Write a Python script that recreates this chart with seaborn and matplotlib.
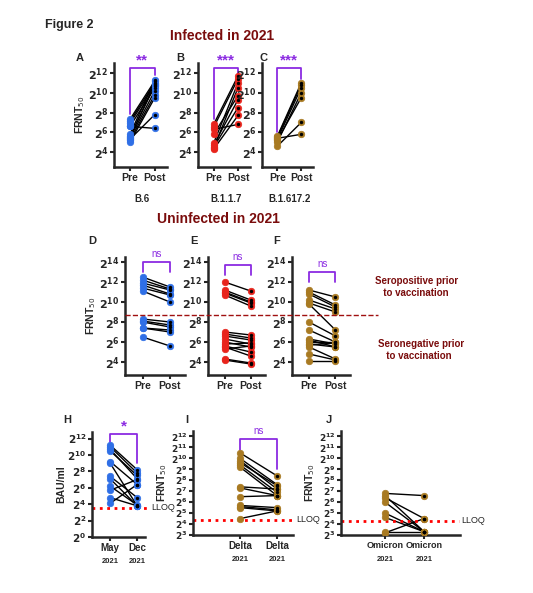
import matplotlib
matplotlib.use("Agg")
import matplotlib.pyplot as plt
import seaborn as sns
import pandas as pd
import numpy as np

sns.set_style("ticks")
plt.rcParams['font.family'] = ['Liberation Sans', 'DejaVu Sans']

BLUE, RED, BROWN = "#2f6fe6", "#e8241c", "#a87a22"
PURPLE, DRED = "#8b2be2", "#7a0c0c"

# log2 titres
A_pre = [7.3, 7.1, 6.9, 6.6, 6.6, 5.8, 5.6, 5.4, 5.2, 5.0, 5.3, 5.5]
A_post = [11.2, 11.0, 10.8, 10.5, 6.4, 11.3, 10.7, 10.2, 9.8, 9.5, 7.8, 10.9]
B_pre = [6.8, 6.5, 6.3, 5.8, 4.9, 4.7, 4.5, 4.3, 4.4]
B_post = [11.7, 11.4, 6.8, 9.7, 11.0, 9.3, 8.5, 7.7, 10.5]
C_pre = [5.6, 5.5, 5.3, 5.0, 5.2, 4.6, 5.4]
C_post = [11.0, 10.8, 10.5, 10.0, 9.5, 7.0, 5.8]
D_pre = [12.5, 12.2, 11.9, 11.7, 11.4, 11.1, 8.3, 8.1, 8.0, 7.4, 7.4, 6.5]
D_post = [11.5, 11.3, 11.2, 10.8, 10.7, 10.0, 8.0, 7.7, 7.5, 7.2, 7.0, 5.6]
E_pre = [12.0, 11.2, 11.0, 10.9, 10.7, 7.0, 6.8, 6.6, 6.3, 6.0, 5.8, 5.6, 5.5, 5.3, 4.3, 4.2]
E_post = [11.1, 10.2, 10.0, 9.9, 9.6, 6.7, 6.4, 6.2, 5.8, 5.5, 5.9, 5.0, 4.6, 5.6, 3.9, 3.8]
F_pre = [11.2, 11.0, 10.8, 10.2, 9.8, 9.9, 8.0, 7.2, 6.3, 6.2, 6.0, 5.8, 5.7, 5.5, 4.8, 4.1]
F_post = [10.5, 9.7, 9.5, 9.3, 7.2, 9.0, 6.6, 6.0, 5.8, 5.5, 6.0, 5.5, 5.9, 4.3, 4.2, 4.1]
H_may = [11.2, 11.0, 10.7, 10.5, 9.2, 9.0, 7.4, 7.1, 6.2, 5.7, 4.8, 4.1]
H_dec = [8.2, 7.8, 7.1, 7.5, 6.4, 3.8, 4.8, 3.8, 3.9, 7.0, 3.8, 6.4]
I_may = [10.5, 10.0, 9.8, 9.6, 9.4, 9.2, 7.4, 7.3, 6.5, 5.7, 5.6, 5.5, 4.5]
I_dec = [8.4, 7.6, 7.2, 7.5, 6.9, 6.6, 7.2, 6.6, 6.6, 5.5, 5.3, 5.2, 5.2]
J_may = [6.8, 6.6, 6.4, 6.0, 5.0, 4.6, 3.3, 3.2]
J_dec = [6.6, 3.3, 4.5, 3.3, 3.3, 3.3, 3.3, 4.5]
LLOQ_H, LLOQ_I, LLOQ_J = 3.55, 4.4, 4.3
SERO_CUT = 8.7

W, H = 533, 593
fig = plt.figure(figsize=(W / 100, H / 100), dpi=100)

def axpx(x0, x1, y0, y1):
    return fig.add_axes([x0 / W, 1 - y1 / H, (x1 - x0) / W, (y1 - y0) / H])

def panel(rect, pre, post, color, ylim, ticks, xlim, xlabels, ylabel=None,
          sig=None, br=None, lw=1.0, fs=8, xfs=7.5):
    ax = axpx(*rect)
    n = len(pre)
    df = pd.DataFrame({"x": [0] * n + [1] * n, "y": list(pre) + list(post),
                       "s": list(range(n)) * 2})
    sns.lineplot(data=df, x="x", y="y", units="s", estimator=None, color="black",
                 lw=lw, ax=ax, legend=False)
    sns.scatterplot(data=df, x="x", y="y", color=color, s=22, edgecolor=color,
                    linewidth=0.5, ax=ax, zorder=3, legend=False)
    d1 = df[df.x == 1]
    ax.scatter(d1.x, d1.y, s=2, color="black", zorder=4)
    ax.set_xlim(*xlim)
    ax.set_ylim(*ylim)
    ax.set_yticks(ticks)
    ax.set_yticklabels([f"$\\mathbf{{2^{{{t}}}}}$" for t in ticks], fontsize=fs)
    ax.set_xticks([0, 1])
    ax.set_xticklabels(xlabels, fontsize=xfs, fontweight="bold")
    ax.set_xlabel("")
    ax.set_ylabel(ylabel or "", fontsize=7.5, fontweight="bold", labelpad=1)
    for s in ["top", "right"]:
        ax.spines[s].set_visible(False)
    for s in ["left", "bottom"]:
        ax.spines[s].set_linewidth(1.8)
    ax.tick_params(width=1.5, length=3, pad=1)
    if sig is not None:
        yb0, ytop, yb1 = br
        ax.plot([0, 0, 1, 1], [yb0, ytop, ytop, yb1], color=PURPLE, lw=1.3, clip_on=False)
        big = sig != "ns"
        ax.text(0.5, ytop + (0.05 if big else 0.25), sig, ha="center", va="bottom",
                color=PURPLE, fontsize=11 if big else 7, fontweight="bold" if big else "normal")
    return ax

FR = "FRNT$_{50}$"
PP = ["Pre", "Post"]
xl1 = (-0.64, 1.49)
tA = [4, 6, 8, 10, 12]
axA = panel((114, 167, 63, 167), A_pre, A_post, BLUE, (2.5, 13), tA, xl1, PP, FR, "**", (7.9, 12.5, 11.8))
axB = panel((198, 250, 63, 167), B_pre, B_post, RED, (2.5, 13), tA, xl1, PP, None, "***", (7.3, 12.5, 11.9))
axC = panel((262, 313, 63, 167), C_pre, C_post, BROWN, (2.5, 13), tA, xl1, PP, None, "***", (6.0, 12.5, 11.4))

tD = [4, 6, 8, 10, 12, 14]
xl2 = (-0.64, 1.55)
axD = panel((125, 185, 257, 375), D_pre, D_post, BLUE, (2.7, 14.5), tD, xl2, PP, FR, "ns", (13.0, 14.0, 13.0))
axE = panel((208, 265, 257, 375), E_pre, E_post, RED, (2.7, 14.5), tD, xl2, PP, None, "ns", (12.7, 13.7, 12.7))
axF = panel((292, 350, 257, 375), F_pre, F_post, BROWN, (2.7, 14.5), tD, xl2, PP, None, "ns", (12.0, 13.0, 12.0))

axH = panel((92, 145, 432, 537), H_may, H_dec, BLUE, (0, 12.8), list(range(0, 13, 2)), (-0.67, 1.29),
            ["May", "Dec"], "BAU/ml", "*", (11.6, 12.6, 9.0), fs=7.5, xfs=7)
axI = panel((193, 293, 431, 535), I_may, I_dec, BROWN, (3, 12.5), list(range(3, 13)), (-1.27, 1.43),
            ["Delta", "Delta"], FR, "ns", (10.8, 11.8, 9.0), fs=6.5, xfs=7)
axJ = panel((341, 460, 431, 535), J_may, J_dec, BROWN, (3, 12.5), list(range(3, 13)), (-1.13, 1.92),
            ["Omicron", "Omicron"], FR, None, fs=6.5, xfs=6.5)

for ax in (axH, axI, axJ):
    for x, t in ((0, "2021"), (1, "2021")):
        ax.text(x, -0.2, t, transform=ax.get_xaxis_transform(), ha="center", va="top",
                fontsize=5.5, fontweight="bold")

# LLOQ lines
for ax, v, x1 in ((axH, LLOQ_H, 1.45), (axI, LLOQ_I, 1.45), (axJ, LLOQ_J, 1.9)):
    ax.plot([ax.get_xlim()[0], x1], [v, v], color="red", ls=":", lw=2, clip_on=False, zorder=2)
    ax.text(x1 + 0.06, v, "LLOQ", fontsize=6.5, va="center", clip_on=False)

# seropositive cut line across D-F
yfig = 1 - (257 + (14.5 - SERO_CUT) / (14.5 - 2.7) * (375 - 257)) / H
fig.add_artist(plt.Line2D([125 / W, 378 / W], [yfig, yfig], color="#a01010", ls="--", lw=1))

fig.text(375 / W, 1 - 287 / H, "Seropositive prior\n   to vaccination", color=DRED, fontsize=7,
         fontweight="bold", va="center")
fig.text(378 / W, 1 - 350 / H, "Seronegative prior\n   to vaccination", color=DRED, fontsize=7,
         fontweight="bold", va="center")

for ax, t in ((axA, "B.6"), (axB, "B.1.1.7"), (axC, "B.1.617.2")):
    ax.text(0.5, -0.26, t, transform=ax.get_xaxis_transform(), ha="center", va="top",
            fontsize=7, fontweight="bold")

fig.text(45 / W, 1 - 25 / H, "Figure 2", fontsize=9, fontweight="bold", va="center")
fig.text(222 / W, 1 - 36 / H, "Infected in 2021", fontsize=10, fontweight="bold", color=DRED,
         ha="center", va="center")
fig.text(218 / W, 1 - 219 / H, "Uninfected in 2021", fontsize=10, fontweight="bold", color=DRED,
         ha="center", va="center")

for t, x, y in (("A", 76, 58), ("B", 176, 58), ("C", 259, 58), ("D", 88, 241), ("E", 190, 241),
                ("F", 273, 241), ("H", 63, 420), ("I", 185, 420), ("J", 326, 420)):
    fig.text(x / W, 1 - y / H, t, fontsize=8, fontweight="bold", va="center")

fig.savefig("out.png", dpi=100)
